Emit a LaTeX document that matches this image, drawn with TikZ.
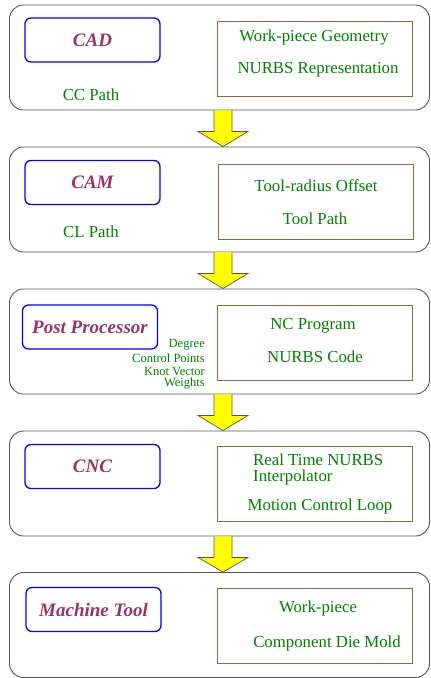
\documentclass[tikz,border=0pt]{standalone}
\usepackage{fontspec}
\setmainfont{Liberation Serif}
\usetikzlibrary{calc}
\definecolor{lbl}{RGB}{153,51,102}
\definecolor{grn}{RGB}{0,128,0}
\definecolor{brn}{RGB}{153,102,51}
\definecolor{bord}{RGB}{85,85,85}
\definecolor{yel}{RGB}{255,255,0}
\tikzset{
  outerbox/.style={draw=bord, line width=0.9pt, rounded corners=14pt, minimum width=420pt, minimum height=105pt, inner sep=0pt},
  stagebox/.style={draw=blue, line width=1.3pt, rounded corners=6pt, minimum width=135pt, minimum height=44pt, inner sep=0pt, text=lbl, font=\fontsize{19}{22}\selectfont\bfseries\itshape},
  infobox/.style={draw=brn, line width=0.8pt, minimum width=195pt, minimum height=75pt, inner sep=0pt},
  gtext/.style={text=grn, inner sep=0pt, font=\fontsize{16.8}{16}\selectfont},
  stext/.style={text=grn, inner sep=0pt, anchor=east, font=\fontsize{12.5}{13}\selectfont},
  yarrow/.style={draw=bord, fill=yel, line width=0.7pt, line join=miter}
}
\begin{document}
\begin{tikzpicture}[x=1pt,y=-1pt]
\useasboundingbox (0,0) rectangle (431,678);
% outer boxes
\node[outerbox] (b1) at (219.5,57.5) {};
\node[outerbox] (b2) at (219.5,199.5) {};
\node[outerbox] (b3) at (219.5,341.5) {};
\node[outerbox] (b4) at (219.5,483.5) {};
\node[outerbox] (b5) at (219.5,625) {};
% arrows
\foreach \a/\b in {b1/b2,b2/b3,b3/b4,b4/b5}{
  \draw[yarrow] ($(\a.south)+(-5.5,0)$) -- ($(\a.south)+(-5.5,21)$) -- ($(\a.south)+(-21.5,21)$)
    -- ($(\b.north)+(3.5,0)$) -- ($(\a.south)+(28.5,21)$) -- ($(\a.south)+(12.5,21)$) -- ($(\a.south)+(12.5,0)$);
}
% box 1
\node[stagebox] (cad) at (92.5,40) {CAD};
\node[infobox] (i1) at (314.5,58.5) {};
\node[gtext] (t1a) at (314,37) {Work-piece Geometry};
\node[gtext] (t1b) at (318,70) {NURBS Representation};
\node[gtext] (t1c) at (91,95) {CC Path};
% box 2
\node[stagebox] (cam) at (92.5,182.5) {CAM};
\node[infobox] (i2) at (315.5,201.5) {};
\node[gtext] (t2a) at (316,186) {Tool-radius Offset};
\node[gtext] (t2b) at (315,219) {Tool Path};
\node[gtext] (t2c) at (91,232) {CL Path};
% box 3
\node[stagebox] (pp) at (90,327) {Post Processor};
\node[infobox] (i3) at (315,342.5) {};
\node[gtext] (t3a) at (313,326) {NC Program};
\node[gtext] (t3b) at (315,357) {NURBS Code};
\node[stext] (s1) at (205,345) {Degree};
\node[stext] (s2) at (205,358) {Control Points};
\node[stext] (s3) at (205,371) {Knot Vector};
\node[stext] (s4) at (205,384) {Weights};
% box 4
\node[stagebox] (cnc) at (92.5,466.5) {CNC};
\node[infobox] (i4) at (315,483.5) {};
\node[gtext, align=left, anchor=west] (t4a) at (253,469) {Real Time NURBS\\Interpolator};
\node[gtext] (t4b) at (320,506) {Motion Control Loop};
% box 5
\node[stagebox] (mt) at (93.5,609.5) {Machine Tool};
\node[infobox] (i5) at (315,626) {};
\node[gtext] (t5a) at (318,608) {Work-piece};
\node[gtext] (t5b) at (327,643) {Component Die Mold};
\end{tikzpicture}
\end{document}
